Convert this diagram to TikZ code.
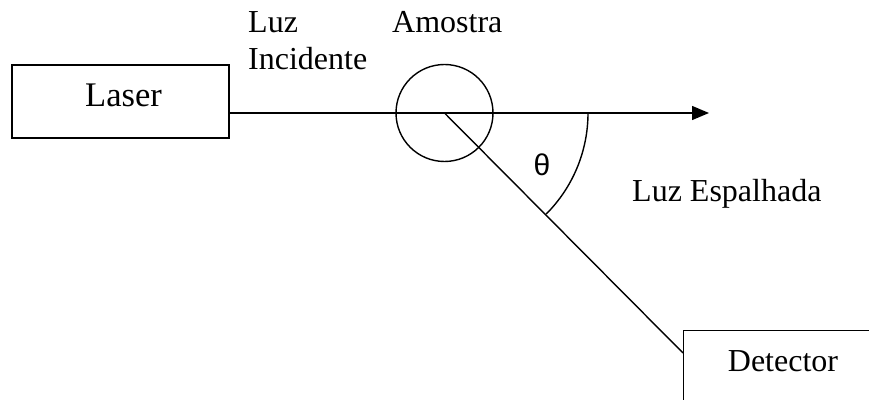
\documentclass[tikz,border=0pt]{standalone}
\usepackage{fontspec}
\setmainfont{Liberation Serif}
\newfontfamily\thetafont{Liberation Sans}
\usetikzlibrary{arrows.meta}
\begin{document}
\begin{tikzpicture}[x=1pt,y=1pt,
  ln/.style={line width=1.4pt},
  lbl/.style={inner sep=0pt,font=\fontsize{32}{38}\selectfont},
  boxsty/.style={draw,line width=1.4pt,rectangle,inner sep=0pt}]
\useasboundingbox (0,0) rectangle (869,399);
\clip (0,0) rectangle (869,399);
\node[boxsty,minimum width=217pt,minimum height=73pt] (laser) at (120.5,297.5) {};
\node[inner sep=0pt,anchor=base,font=\fontsize{34.5}{40}\selectfont] (lasertxt) at (123.5,292) {Laser};
\node[draw,circle,line width=1.4pt,minimum size=97pt,inner sep=0pt] (sample) at (444.5,286) {};
\node[boxsty,anchor=north west,minimum width=300pt,minimum height=120pt] (det) at (683,69) {};
\node[lbl,anchor=base] (dettxt) at (783,28) {Detector};
\coordinate (tip) at (709,286);
\coordinate (detin) at (683,46);
\draw[ln,-{Triangle[length=17pt,width=14pt]}] (laser.east |- tip) -- (tip);
\draw[ln] (sample.center) -- (detin);
\draw[ln] (588,286) arc[start angle=0,end angle=-45,radius=143];
\node[inner sep=0pt,font=\thetafont\fontsize{30}{34}\selectfont] (theta) at (542,234) {θ};
\node[lbl,anchor=base west] (luz) at (248,366) {Luz};
\node[lbl,anchor=base west] (inc) at (248,329) {Incidente};
\node[lbl,anchor=base west] (amo) at (392,366) {Amostra};
\node[lbl,anchor=base west] (esp) at (632,197) {Luz Espalhada};
\end{tikzpicture}
\end{document}
